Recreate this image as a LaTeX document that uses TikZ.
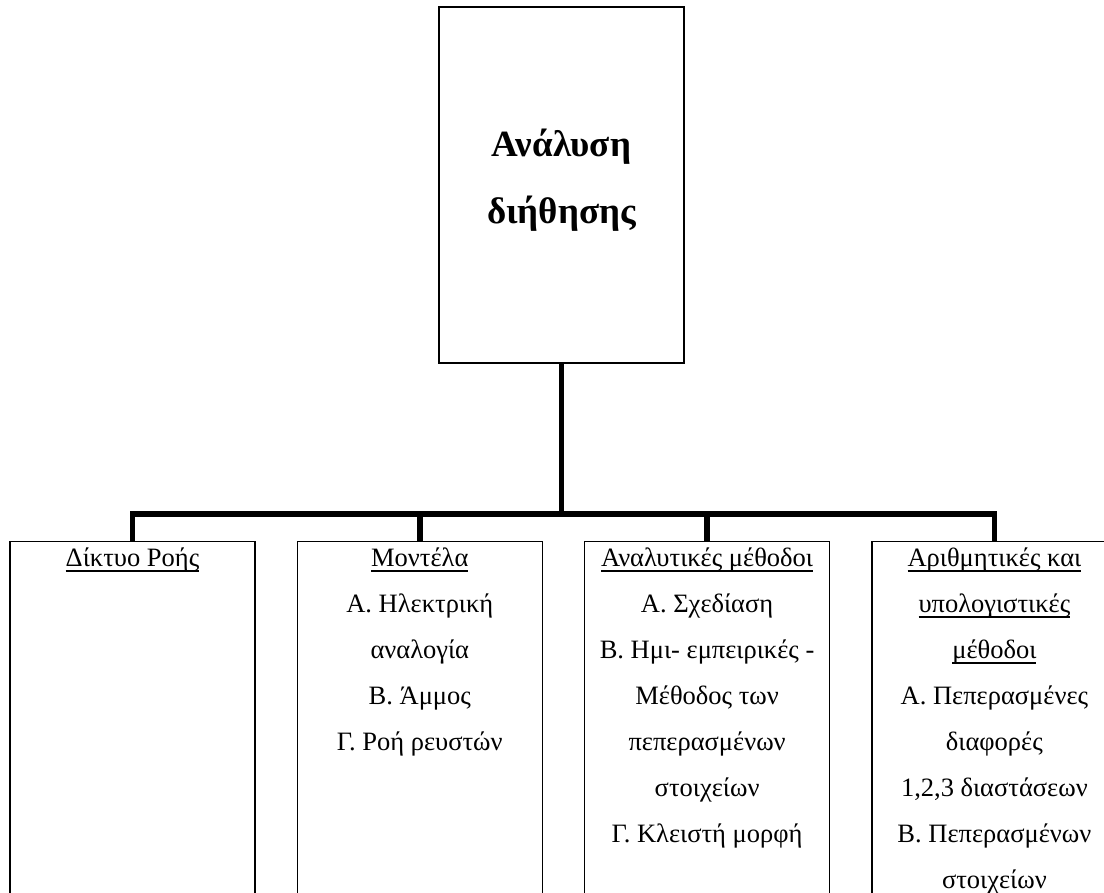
\documentclass[tikz,border=0pt]{standalone}
\usepackage{fontspec}
\setmainfont{Liberation Serif}
\usetikzlibrary{positioning}

% underline that runs through the descenders, as in a word processor
\newcommand{\undr}[1]{\setbox0=\hbox{#1}\rlap{\vrule width\wd0 height -4pt depth 5.5pt}\box0}

\begin{document}
\begin{tikzpicture}[
  x=1pt, y=-1pt,
  headbox/.style={
    draw, line width=1.3pt,
    minimum width=245pt, minimum height=356pt
  },
  headtxt/.style={
    inner sep=0pt, align=center, anchor=north,
    font={\fontsize{37}{67}\selectfont\bfseries}
  },
  branch/.style={
    draw, line width=1.3pt, anchor=north,
    minimum width=245pt, minimum height=420pt
  },
  branchtxt/.style={
    inner sep=0pt, align=center,
    font={\fontsize{26.5}{46}\selectfont}
  },
  link/.style={line width=5.5pt, draw=black}
]
  \useasboundingbox (0,0) rectangle (1104,893);
  \clip (0,0) rectangle (1104,893);

  \node[headbox] (root) at (561.5,185) {};
  \node[headtxt] (roottxt) at (561.5,128.5) {Ανάλυση\\διήθησης};

  \node[branch] (b1) at (132.5,541) {};
  \node[branch, right=41pt of b1] (b2) {};
  \node[branch, right=41pt of b2] (b3) {};
  \node[branch, right=41pt of b3] (b4) {};

  \node[branchtxt, below=6.5pt of b1.north] (t1) {\undr{Δίκτυο Ροής}};
  \node[branchtxt, below=6.5pt of b2.north] (t2) {\undr{Μοντέλα}\\Α. Ηλεκτρική\\αναλογία\\Β. Άμμος\\Γ. Ροή ρευστών};
  \node[branchtxt, below=6.5pt of b3.north] (t3) {\undr{Αναλυτικές μέθοδοι}\\Α. Σχεδίαση\\Β. Ημι- εμπειρικές -\\Μέθοδος των\\πεπερασμένων\\στοιχείων\\Γ. Κλειστή μορφή};
  \node[branchtxt, below=6.5pt of b4.north] (t4) {\undr{Αριθμητικές και}\\\undr{υπολογιστικές}\\\undr{μέθοδοι}\\Α. Πεπερασμένες\\διαφορές\\1,2,3 διαστάσεων\\Β. Πεπερασμένων\\στοιχείων};

  \coordinate (hub) at (root.south |- 0,514);
  \draw[link] (root.south) -- (hub);
  \draw[link] (b1.north) |- (hub) -| (b4.north);
  \draw[link] (b2.north) -- (b2.north |- hub);
  \draw[link] (b3.north) -- (b3.north |- hub);
\end{tikzpicture}
\end{document}
